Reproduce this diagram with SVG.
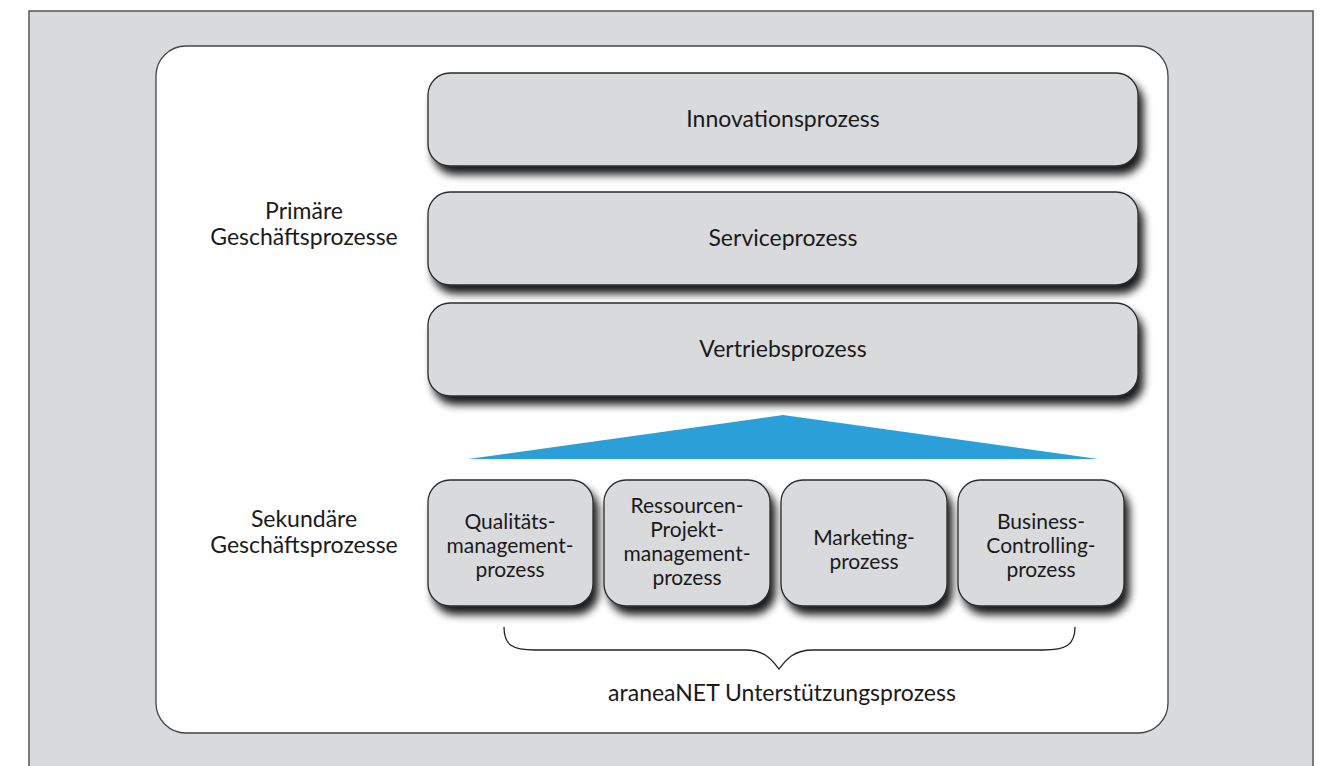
<svg xmlns="http://www.w3.org/2000/svg" width="1329" height="766" viewBox="0 0 1329 766">
<style>
.box{fill:#d9dadc;stroke:#2b2b2b;stroke-width:1.3;filter:url(#sh)}
.t{font-family:Lato,"Open Sans",sans-serif;font-size:23px;fill:#1a1a1a;text-anchor:middle}
.s{font-size:21px}
</style>
<defs>
<filter id="sh" x="-10%" y="-20%" width="125%" height="150%">
<feGaussianBlur in="SourceAlpha" stdDeviation="4.5"/>
<feOffset dx="5" dy="8" result="b"/>
<feComponentTransfer><feFuncA type="linear" slope="0.9"/></feComponentTransfer>
<feMerge><feMergeNode/><feMergeNode in="SourceGraphic"/></feMerge>
</filter>
</defs>
<rect x="29" y="11" width="1284" height="780" fill="#d9dadc" stroke="#555" stroke-width="1.5"/>
<rect x="156" y="46" width="1012" height="687" rx="30" fill="#fff" stroke="#444" stroke-width="1.3"/>
<g id="label-primaer"><text class="t" x="304" y="219">Primäre</text><text class="t" x="304" y="245">Geschäftsprozesse</text></g>
<g id="label-sekundaer"><text class="t" x="304" y="527">Sekundäre</text><text class="t" x="304" y="553">Geschäftsprozesse</text></g>
<g id="innovation"><rect class="box" x="428" y="73" width="710" height="93" rx="22"/><text class="t" x="783" y="127">Innovationsprozess</text></g>
<g id="service"><rect class="box" x="428" y="192" width="710" height="93" rx="22"/><text class="t" x="783" y="246">Serviceprozess</text></g>
<g id="vertrieb"><rect class="box" x="428" y="303" width="710" height="93" rx="22"/><text class="t" x="783" y="357">Vertriebsprozess</text></g>
<g id="connectors">
<polygon points="783,415 1098,459 468,459" fill="#2a9fd8"/>
<path d="M504,627 C504,645 512,650 535,650 L745,650 C765,650 772,660 779,669 C786,660 793,650 813,650 L1043,650 C1066,650 1075,645 1075,627" fill="none" stroke="#222" stroke-width="1.3"/>
</g>
<g id="qualitaet"><rect class="box" x="428" y="480" width="165" height="126" rx="22"/><text class="t s" x="510" y="529">Qualitäts-</text><text class="t s" x="510" y="553">management-</text><text class="t s" x="510" y="577">prozess</text></g>
<g id="ressourcen"><rect class="box" x="604" y="480" width="166" height="126" rx="22"/><text class="t s" x="687" y="513">Ressourcen-</text><text class="t s" x="687" y="537">Projekt-</text><text class="t s" x="687" y="561">management-</text><text class="t s" x="687" y="585">prozess</text></g>
<g id="marketing"><rect class="box" x="781" y="480" width="166" height="126" rx="22"/><text class="t s" x="864" y="545">Marketing-</text><text class="t s" x="864" y="569">prozess</text></g>
<g id="business"><rect class="box" x="958" y="480" width="166" height="126" rx="22"/><text class="t s" x="1041" y="529">Business-</text><text class="t s" x="1041" y="553">Controlling-</text><text class="t s" x="1041" y="577">prozess</text></g>
<g id="label-unterstuetzung"><text class="t" x="782" y="701">araneaNET Unterstützungsprozess</text></g>
</svg>
